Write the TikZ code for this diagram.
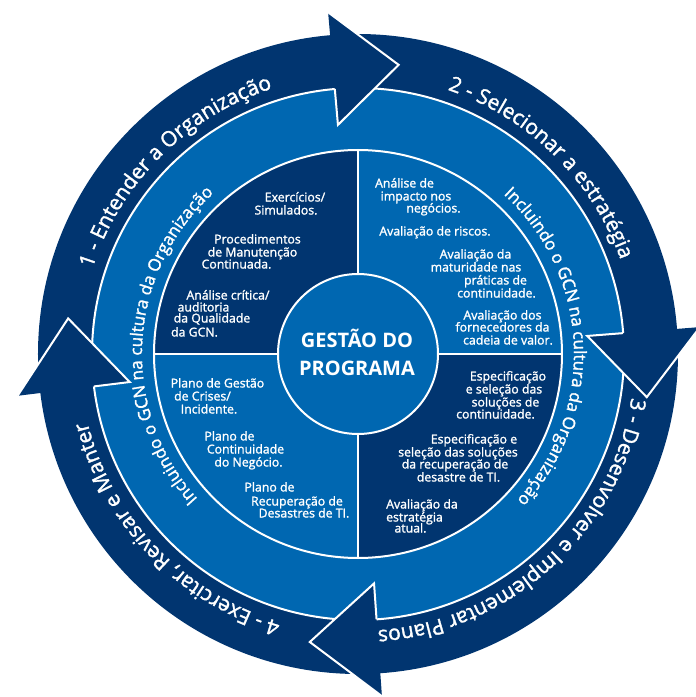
\documentclass[tikz,border=0pt]{standalone}
\usepackage{fontspec}
\setmainfont{Open Sans}
\newfontfamily\medfont{Open Sans}[FakeBold=1.5]
\usetikzlibrary{decorations.text}
\definecolor{navy}{RGB}{1,53,112}
\definecolor{midblue}{RGB}{0,103,177}

% arrowhead on the outer ring: #1 = angle of the back edge, #2 = angle of the tip
\newcommand\ringhead[2]{%
  \fill[navy] (#1:343) -- (#2:292) -- (#1:230) -- cycle;
  \draw[sep,line join=miter] (#1:343) -- (#2:292) -- (#1:230) -- (#1:266);
}

\begin{document}
\begin{tikzpicture}[x=1pt,y=1pt,
  sep/.style={draw=white,line width=2pt},
  qtext/.style={text=white,font=\medfont\fontsize{12.3}{13}\selectfont,inner sep=0pt,anchor=base},
  ctext/.style={text=white,font=\fontsize{20}{24}\selectfont\bfseries,inner sep=0pt,anchor=base},
  outer label/.style={decorate,decoration={text along path,text align=center,text color=white,
      text={|\medfont\fontsize{21}{21}\selectfont|#1}}},
  inner label/.style={decorate,decoration={text along path,text align=center,text color=white,
      text={|\medfont\fontsize{17}{17}\selectfont|#1}}},
]
\useasboundingbox (-358,-343) rectangle (338,354);

% rings
\fill[navy] (0,0) circle (320);
\fill[midblue] (0,0) circle (266);
\fill[navy] (0,0) -- (180:204) arc[start angle=180,end angle=90,radius=204] -- cycle;
\fill[navy] (0,0) -- (0:204) arc[start angle=0,end angle=-90,radius=204] -- cycle;
\draw[sep] (0,0) circle (266);
\draw[sep] (0,0) circle (204);
\draw[sep] (0,-204) -- (0,204);
\draw[sep] (-204,0) -- (204,0);
\draw[sep,fill=midblue] (0,0) circle (80);

% arrowheads of the four phases
\ringhead{95}{82}
\ringhead{4.5}{-8.5}
\ringhead{-86}{-99.5}
\ringhead{187}{173}

% phase labels on the outer ring
\path[outer label={1 - Entender a Organização}] (165:279) arc[start angle=165,end angle=105,radius=279];
\path[outer label={2 - Selecionar a estratégia}] (76:279) arc[start angle=76,end angle=15,radius=279];
\path[outer label={3 - Desenvolver e Implementar Planos}] (-4:277) arc[start angle=-4,end angle=-91,radius=277];
\path[outer label={4 - Exercitar, Revisar e Manter}] (262:279) arc[start angle=262,end angle=186,radius=279];

% labels on the middle ring
\path[inner label={Incluindo o GCN na cultura da Organização}] (230:216) arc[start angle=230,end angle=124,radius=216];
\path[inner label={Incluindo o GCN na cultura da Organização}] (56:216) arc[start angle=56,end angle=-51,radius=216];

% centre
\node[ctext] (c1) at (-1,7) {GESTÃO DO};
\node[ctext] (c2) at (-1,-21) {PROGRAMA};

% top-left quadrant
\node[qtext] (tl1) at (-63,152.5) {Exercícios/};
\node[qtext] (tl2) at (-72,139.5) {Simulados.};
\node[qtext] (tl3) at (-100.5,110.5) {Procedimentos};
\node[qtext] (tl4) at (-105.5,97.5) {de Manutenção};
\node[qtext] (tl5) at (-121.5,85.5) {Continuada.};
\node[qtext] (tl6) at (-130,54.5) {Análise crítica/};
\node[qtext] (tl7) at (-154.5,42.5) {auditoria};
\node[qtext] (tl8) at (-146,31.5) {da Qualidade};
\node[qtext] (tl9) at (-163.5,17.5) {da GCN.};

% top-right quadrant
\node[qtext] (tr1) at (46.5,166.5) {Análise de};
\node[qtext] (tr2) at (58,153.5) {impacto nos};
\node[qtext] (tr3) at (75.5,141.5) {negócios.};
\node[qtext] (tr4) at (77,118.5) {Avaliação de riscos.};
\node[qtext] (tr5) at (117.5,95.5) {Avaliação da};
\node[qtext] (tr6) at (118,82.5) {maturidade nas};
\node[qtext] (tr7) at (137.5,69.5) {práticas de};
\node[qtext] (tr8) at (138.5,56.5) {continuidade.};
\node[qtext] (tr9) at (144.5,34.5) {Avaliação dos};
\node[qtext] (tr10) at (144.5,22.5) {fornecedores da};
\node[qtext] (tr11) at (150,9.5) {cadeia de valor.};

% bottom-left quadrant
\node[qtext] (bl1) at (-140.5,-33.5) {Plano de Gestão};
\node[qtext] (bl2) at (-155.5,-46.5) {de Crises/};
\node[qtext] (bl3) at (-149,-59.5) {Incidente.};
\node[qtext] (bl4) at (-128.5,-86.5) {Plano de};
\node[qtext] (bl5) at (-112.5,-99.5) {Continuidade};
\node[qtext] (bl6) at (-109.5,-112.5) {do Negócio.};
\node[qtext] (bl7) at (-88.5,-137.5) {Plano de};
\node[qtext] (bl8) at (-61,-151.5) {Recuperação de};
\node[qtext] (bl9) at (-54,-163.5) {Desastres de TI.};

% bottom-right quadrant
\node[qtext] (br1) at (150,-26.5) {Especificação};
\node[qtext] (br2) at (146,-39.5) {e seleção das};
\node[qtext] (br3) at (147.5,-52.5) {soluções de};
\node[qtext] (br4) at (137.5,-64.5) {continuidade.};
\node[qtext] (br5) at (116,-89.5) {Especificação e};
\node[qtext] (br6) at (100,-102.5) {seleção das soluções};
\node[qtext] (br7) at (97,-114.5) {da recuperação de};
\node[qtext] (br8) at (100.5,-127.5) {desastre de TI.};
\node[qtext] (br9) at (64,-154.5) {Avaliação da};
\node[qtext] (br10) at (56.5,-167.5) {estratégia};
\node[qtext] (br11) at (52.5,-178.5) {atual.};
\end{tikzpicture}
\end{document}
